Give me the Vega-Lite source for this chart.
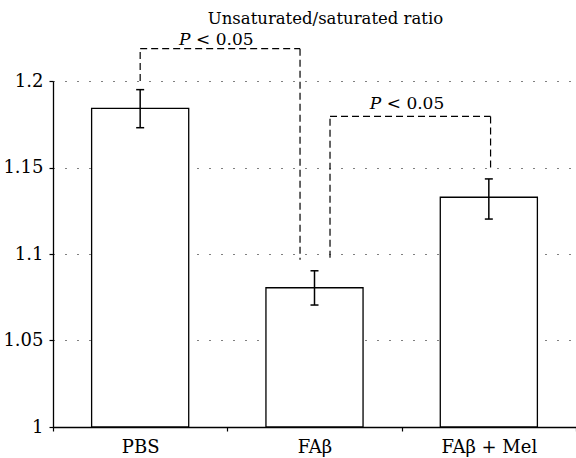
{
  "$schema": "https://vega.github.io/schema/vega-lite/v6.json",
  "autosize": "none",
  "width": 523,
  "height": 346,
  "padding": {"left": 53, "top": 81, "right": 0, "bottom": 31},
  "title": {
    "text": "Unsaturated/saturated ratio",
    "frame": "group",
    "anchor": "middle",
    "baseline": "alphabetic",
    "offset": 8,
    "dy": 18,
    "dx": 11,
    "font": "DejaVu Serif",
    "fontSize": 16.5,
    "fontWeight": "normal",
    "color": "#000000"
  },
  "config": {
    "view": {"stroke": null},
    "axis": {
      "labelFont": "DejaVu Serif",
      "labelFontSize": 18,
      "labelColor": "#000000",
      "domainColor": "#000000",
      "domainWidth": 1.3,
      "tickColor": "#000000",
      "tickWidth": 1.2,
      "tickSize": 4
    }
  },
  "resolve": {"scale": {"x": "independent"}, "axis": {"x": "independent"}},
  "layer": [
    {
      "data": {
        "values": [
          {"group": "PBS", "value": 1.1842, "lo": 1.173, "hi": 1.195},
          {"group": "FAβ", "value": 1.0805, "lo": 1.0705, "hi": 1.0903},
          {"group": "FAβ + Mel", "value": 1.1328, "lo": 1.1202, "hi": 1.1434}
        ]
      },
      "encoding": {
        "x": {
          "field": "group",
          "type": "nominal",
          "sort": null,
          "scale": {"paddingInner": 0, "paddingOuter": 0},
          "axis": {"title": null, "labelAngle": 0, "tickBand": "extent", "labelPadding": 7, "grid": false}
        }
      },
      "layer": [
        {
          "mark": {"type": "bar", "fill": "#ffffff", "stroke": "#000000", "strokeWidth": 1.3, "width": {"band": 0.557}},
          "encoding": {
            "y": {
              "field": "value",
              "type": "quantitative",
              "scale": {"domain": [1, 1.2], "nice": false, "zero": false},
              "axis": {
                "title": null,
                "values": [1, 1.05, 1.1, 1.15, 1.2],
                "format": "~g",
                "labelPadding": 6,
                "grid": true,
                "gridDash": [1, 11],
                "gridColor": "#000000",
                "gridWidth": 1
              }
            },
            "y2": {"datum": 1}
          }
        },
        {
          "mark": {"type": "rule", "stroke": "#000000", "strokeWidth": 1.5},
          "encoding": {
            "y": {"field": "lo", "type": "quantitative"},
            "y2": {"field": "hi"}
          }
        },
        {
          "mark": {"type": "tick", "orient": "horizontal", "size": 8, "thickness": 1.5, "color": "#000000", "opacity": 1},
          "encoding": {"y": {"field": "lo", "type": "quantitative"}}
        },
        {
          "mark": {"type": "tick", "orient": "horizontal", "size": 8, "thickness": 1.5, "color": "#000000", "opacity": 1},
          "encoding": {"y": {"field": "hi", "type": "quantitative"}}
        }
      ]
    },
    {
      "data": {
        "values": [
          {"x1": 0.5, "x2": 0.5, "y1": 1.2, "y2": 1.2187},
          {"x1": 0.5, "x2": 1.417, "y1": 1.2187, "y2": 1.2187},
          {"x1": 1.417, "x2": 1.417, "y1": 1.2187, "y2": 1.0967},
          {"x1": 1.589, "x2": 1.589, "y1": 1.0979, "y2": 1.1795},
          {"x1": 1.589, "x2": 2.51, "y1": 1.1795, "y2": 1.1795},
          {"x1": 2.51, "x2": 2.51, "y1": 1.1795, "y2": 1.15}
        ]
      },
      "mark": {"type": "rule", "stroke": "#000000", "strokeWidth": 1.2, "strokeDash": [7, 4]},
      "encoding": {
        "x": {"field": "x1", "type": "quantitative", "scale": {"domain": [0, 3], "nice": false, "zero": false}, "axis": null},
        "x2": {"field": "x2"},
        "y": {"field": "y1", "type": "quantitative", "scale": {"domain": [1, 1.2], "nice": false, "zero": false}, "axis": {"title": null, "values": [1, 1.05, 1.1, 1.15, 1.2], "format": "~g", "labelPadding": 6, "grid": true, "gridDash": [1, 11], "gridColor": "#000000", "gridWidth": 1}},
        "y2": {"field": "y2"}
      }
    },
    {
      "data": {
        "values": [
          {"x": 0.938, "y": 1.221, "stat": "P", "rel": "< 0.05"},
          {"x": 2.032, "y": 1.1837, "stat": "P", "rel": "< 0.05"}
        ]
      },
      "encoding": {
        "x": {"field": "x", "type": "quantitative", "scale": {"domain": [0, 3], "nice": false, "zero": false}, "axis": null},
        "y": {"field": "y", "type": "quantitative", "scale": {"domain": [1, 1.2], "nice": false, "zero": false}, "axis": {"title": null, "values": [1, 1.05, 1.1, 1.15, 1.2], "format": "~g", "labelPadding": 6, "grid": true, "gridDash": [1, 11], "gridColor": "#000000", "gridWidth": 1}}
      },
      "layer": [
        {
          "mark": {"type": "text", "font": "DejaVu Serif", "fontSize": 17, "fontStyle": "italic", "align": "right", "baseline": "alphabetic", "dx": -26, "color": "#000000"},
          "encoding": {"text": {"field": "stat"}}
        },
        {
          "mark": {"type": "text", "font": "DejaVu Serif", "fontSize": 17, "align": "left", "baseline": "alphabetic", "dx": -20.5, "color": "#000000"},
          "encoding": {"text": {"field": "rel"}}
        }
      ]
    }
  ]
}
